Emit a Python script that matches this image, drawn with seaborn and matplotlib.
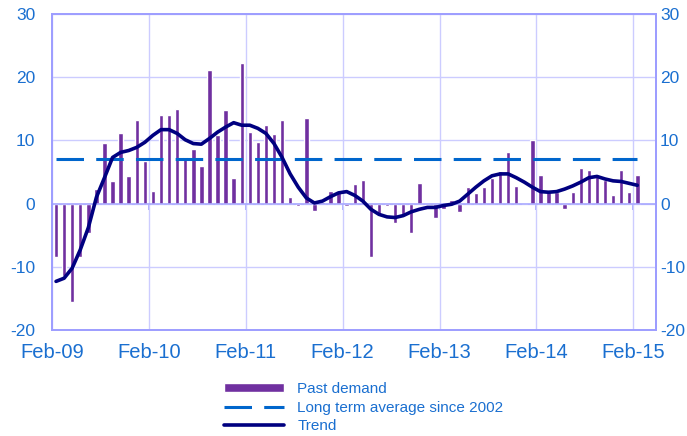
import numpy as np
import pandas as pd
import seaborn as sns
import matplotlib.pyplot as plt

# monthly values, Feb-09 .. Feb-15
demand = [
    -8.5, -11.5, -15.5, -8.4, -4.7, 2.3, 9.6, 3.6, 11.2, 4.3, 13.2,
    6.8, 2.0, 14.0, 14.0, 15.0, 7.4, 8.7, 5.9, 21.1, 10.8, 14.8, 4.1,
    22.3, 11.4, 9.7, 12.4, 11.0, 13.2, 1.1, -0.4, 13.5, -1.2, 0.3, 2.0,
    2.0, -0.4, 3.1, 3.8, -8.5, -2.0, -0.4, -3.0, -2.0, -4.7, 3.3, 0.1,
    -2.2, -0.9, 0.5, -1.4, 2.6, 1.6, 2.6, 4.1, 5.1, 8.1, 2.8, 0.1,
    10.1, 4.6, 1.8, 1.8, -0.9, 1.8, 5.6, 5.3, 4.3, 3.7, 1.3, 5.3,
    1.9, 4.6,
]
trend = [
    -12.3, -11.8, -10.2, -7.3, -3.8, 1.0, 4.1, 7.3, 8.1, 8.4, 8.9,
    9.7, 10.8, 11.7, 11.7, 11.1, 10.1, 9.5, 9.4, 10.3, 11.3, 12.1, 12.8,
    12.4, 12.4, 11.9, 11.1, 9.5, 7.3, 4.7, 2.6, 0.9, 0.1, 0.4, 1.1,
    1.7, 1.9, 1.3, 0.4, -0.9, -1.7, -2.1, -2.2, -1.9, -1.3, -0.9, -0.6,
    -0.6, -0.3, -0.1, 0.4, 1.5, 2.6, 3.6, 4.4, 4.7, 4.7, 4.1, 3.4,
    2.6, 1.9, 1.8, 1.9, 2.3, 2.8, 3.4, 4.1, 4.3, 3.9, 3.6, 3.5,
    3.2, 2.9,
]
long_term_avg = 7.0
year_labels = ['Feb-09', 'Feb-10', 'Feb-11', 'Feb-12', 'Feb-13', 'Feb-14', 'Feb-15']
y_ticks = [-20, -10, 0, 10, 20, 30]

df = pd.DataFrame({'demand': demand, 'trend': trend})
df['avg'] = long_term_avg
df['pos'] = np.arange(len(df)) + 0.5  # bars sit between month ticks

label_blue = '#1a6fd0'
frame_col = '#9d9dff'
grid_col = '#ccccff'

sns.set_style('white')
plt.rcParams['font.family'] = ['Liberation Sans', 'DejaVu Sans']
plt.rcParams['axes.unicode_minus'] = False

fig = plt.figure(figsize=(6.87, 4.36), dpi=100)
ax = fig.add_axes([0.0757, 0.243, 0.879, 0.725])

sns.barplot(data=df, x='pos', y='demand', native_scale=True, width=0.55,
            color='#7030a0', saturation=1, errorbar=None, label='Past demand', ax=ax)
sns.lineplot(data=df, x='pos', y='avg', color='#0066cc', lw=2.2,
             linestyle=(0, (9, 4)), label='Long term average since 2002', ax=ax)
sns.lineplot(data=df, x='pos', y='trend', color='#000080', lw=2.6, label='Trend', ax=ax)

ax.set_xlim(0, 74.8)
ax.set_ylim(-20, 30)
ax.set_xticks(np.arange(len(year_labels)) * 12)
ax.set_xticklabels(year_labels)
ax.set_yticks(y_ticks)
ax.set_xlabel('')
ax.set_ylabel('')

ax.grid(True, color=grid_col, lw=1)
ax.set_axisbelow(True)
for s in ax.spines.values():
    s.set_visible(True)
    s.set_color(frame_col)
    s.set_linewidth(1.4)

ax.tick_params(axis='x', length=0, pad=9, labelsize=14.5, labelcolor=label_blue)
ax.tick_params(axis='y', length=0, pad=12, labelsize=12.5, labelcolor=label_blue)

# right-hand copy of the value axis
right_ax = ax.secondary_yaxis('right')
right_ax.set_yticks(y_ticks)
right_ax.tick_params(length=0, pad=3, labelsize=12.5, labelcolor=label_blue)
right_ax.spines['right'].set_color(frame_col)
right_ax.spines['right'].set_linewidth(1.4)

# category axis crosses at 0: line over the bars, small ticks below it
ax.axhline(0, color='#a8a8ff', lw=1.2, zorder=1.5)
zero_ax = ax.secondary_xaxis(0.4)
zero_ax.set_xticks(np.arange(len(year_labels)) * 12)
zero_ax.set_xticklabels([])
zero_ax.tick_params(direction='out', length=4, color=frame_col, width=1.2)
zero_ax.spines['bottom'].set_visible(False)

handles, labels = ax.get_legend_handles_labels()
order = ['Past demand', 'Long term average since 2002', 'Trend']
h = [handles[labels.index(o)] for o in order]
ax.get_legend().remove()
fig.legend(h, order, loc='upper left', bbox_to_anchor=(0.326, 0.124), frameon=False,
           fontsize=11, labelcolor=label_blue, handlelength=3.9, handletextpad=0.9,
           handleheight=0.5, labelspacing=0.3, borderpad=0, borderaxespad=0)

fig.savefig('out.png', dpi=100)
